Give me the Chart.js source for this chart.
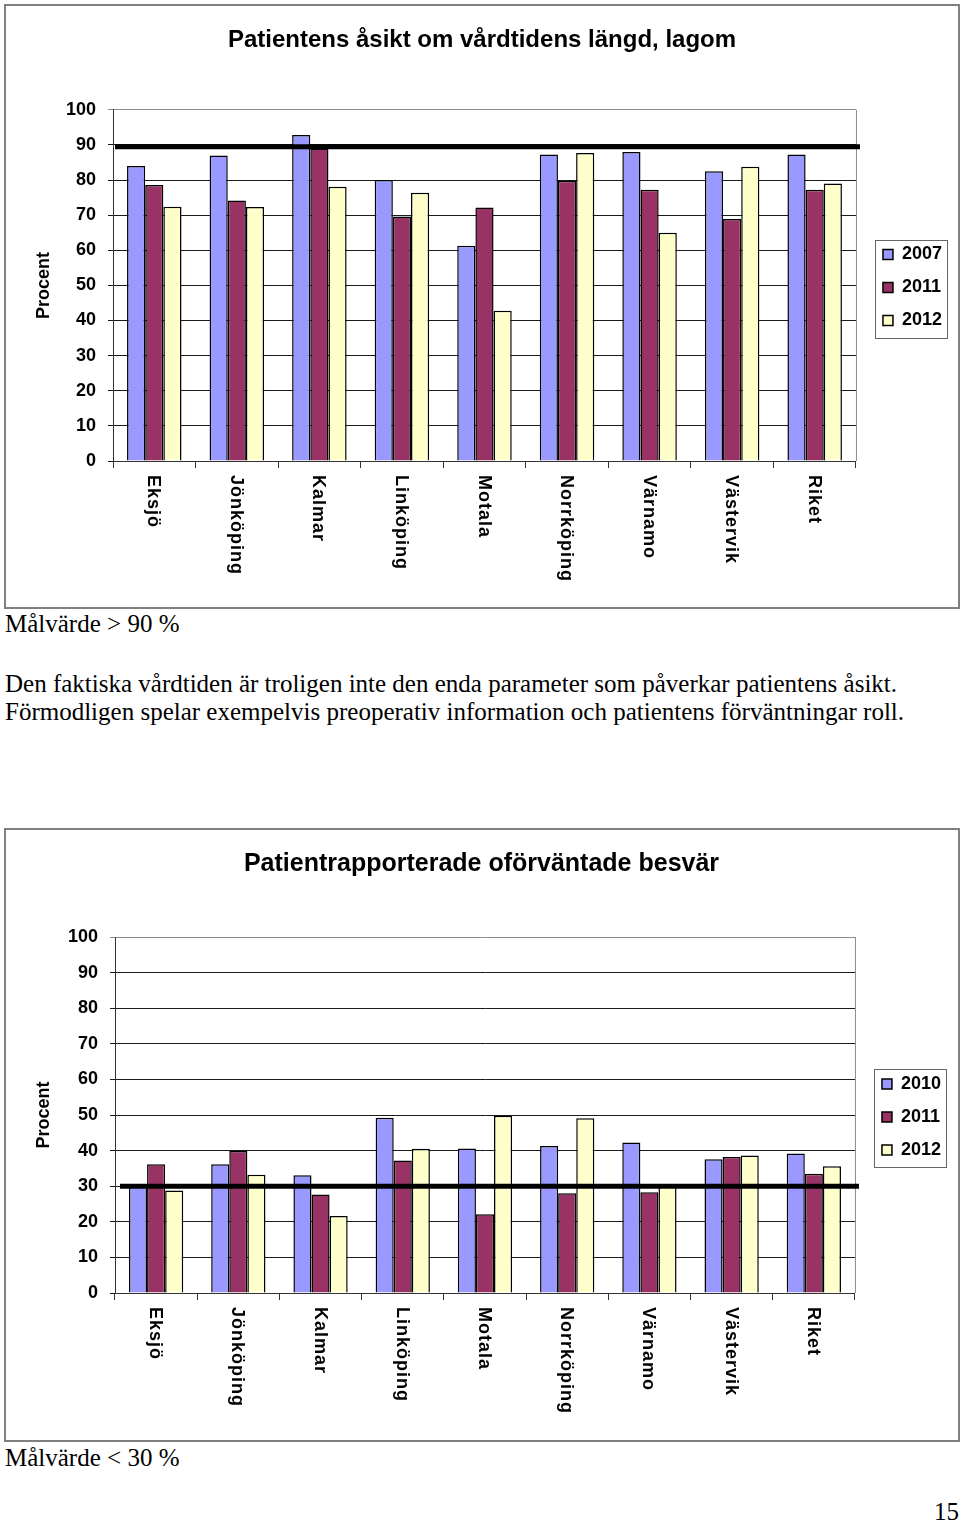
<!DOCTYPE html>
<html>
<head>
<meta charset="utf-8">
<script src="https://cdn.jsdelivr.net/npm/chart.js@4.4.0/dist/chart.umd.min.js"></script>
<style>
  body { margin: 0; width: 960px; height: 1523px; position: relative; background: #fff;
         font-family: 'Liberation Serif', 'Times New Roman', serif; color: #000; }
  .frame { position: absolute; left: 4px; width: 956px; box-sizing: border-box;
           border: 2px solid #808080; background: #fff; }
  .frame canvas { display: block; }
  .txt { position: absolute; left: 5px; font-size: 25px; line-height: 28px; white-space: nowrap; }
</style>
</head>
<body>
<div class="frame" style="top:4px;height:605px"><canvas id="lengthChart" width="952" height="601"></canvas></div>
<div class="txt" style="top:610px">Målvärde &gt; 90 %</div>
<div class="txt" style="top:670px">Den faktiska vårdtiden är troligen inte den enda parameter som påverkar patientens åsikt.<br>Förmodligen spelar exempelvis preoperativ information och patientens förväntningar roll.</div>
<div class="frame" style="top:828px;height:614px"><canvas id="issuesChart" width="952" height="610"></canvas></div>
<div class="txt" style="top:1444px">Målvärde &lt; 30 %</div>
<div class="txt" style="top:1498px;left:934px">15</div>

<script>
const categories = ['Eksjö', 'Jönköping', 'Kalmar', 'Linköping', 'Motala', 'Norrköping', 'Värnamo', 'Västervik', 'Riket'];

// chart 1: vårdtidens längd, lagom
const lengthYears = ['2007', '2011', '2012'];
const length2007 = [84, 87, 92.8, 80, 61.3, 87.3, 88, 82.5, 87.3];
const length2011 = [78.6, 74.2, 89, 69.6, 72.2, 79.8, 77.2, 68.9, 77.2];
const length2012 = [72.4, 72.3, 78.1, 76.4, 42.8, 87.7, 65, 83.8, 79];
const lengthTarget = 89.5;

// chart 2: oförväntade besvär
const issueYears = ['2010', '2011', '2012'];
const issues2010 = [30, 36.2, 33.1, 49.2, 40.6, 41.3, 42.3, 37.6, 39.2];
const issues2011 = [36.2, 39.9, 27.7, 37.2, 22.1, 28, 28.3, 38.2, 33.5];
const issues2012 = [28.8, 33.2, 21.6, 40.5, 49.8, 49.1, 30, 38.6, 35.6];
const issuesTarget = 30;

const barColors = ['#9999FF', '#993366', '#FFFFCC'];
const sansFont = '"Liberation Sans", Arial, sans-serif';

Chart.defaults.font.family = sansFont;
Chart.defaults.color = '#000';

// gray right edge of the plot
const plotEdge = {
  id: 'plotEdge',
  beforeDatasetsDraw(chart) {
    const { ctx, chartArea: { top, bottom, right } } = chart;
    ctx.save();
    ctx.strokeStyle = '#8c8c8c';
    ctx.lineWidth = 1;
    ctx.beginPath();
    ctx.moveTo(right + 0.5, top);
    ctx.lineTo(right + 0.5, bottom);
    ctx.stroke();
    ctx.restore();
  }
};

// thick target line (målvärde)
const targetLine = {
  id: 'targetLine',
  afterDatasetsDraw(chart, args, opts) {
    const { ctx, chartArea: { left, right }, scales: { y } } = chart;
    const yPos = y.getPixelForValue(opts.value);
    ctx.save();
    ctx.strokeStyle = '#000';
    ctx.lineWidth = 5;
    ctx.beginPath();
    ctx.moveTo(left + opts.start, yPos);
    ctx.lineTo(right + 4, yPos);
    ctx.stroke();
    ctx.restore();
  }
};

// category names turned clockwise, reading downwards
const downLabels = {
  id: 'downLabels',
  afterDraw(chart, args, opts) {
    const { ctx, chartArea: { bottom }, scales: { x } } = chart;
    ctx.save();
    ctx.font = 'bold 18px ' + sansFont;
    ctx.fillStyle = '#000';
    ctx.textAlign = 'left';
    ctx.textBaseline = 'middle';
    ctx.letterSpacing = '1px';
    chart.data.labels.forEach((label, i) => {
      ctx.save();
      ctx.translate(x.getPixelForValue(i) - 1, bottom + opts.gap);
      ctx.rotate(Math.PI / 2);
      ctx.fillText(label, 0, 0);
      ctx.restore();
    });
    ctx.restore();
  }
};

// nudge title and legend into place, frame the legend
const boxNudge = {
  id: 'boxNudge',
  afterLayout(chart, args, opts) {
    chart.legend.left += opts.legendX;
    chart.legend.right += opts.legendX;
    chart.legend.top += opts.legendY;
    chart.legend.bottom += opts.legendY;
    chart.titleBlock.left += opts.titleX;
    chart.titleBlock.right += opts.titleX;
  },
  afterDraw(chart) {
    const boxes = chart.legend.legendHitBoxes;
    if (!boxes || !boxes.length) return;
    const l = Math.min(...boxes.map(b => b.left)) - 8;
    const t = Math.min(...boxes.map(b => b.top)) - 6;
    const r = Math.max(...boxes.map(b => b.left + b.width)) + 5;
    const b = Math.max(...boxes.map(b => b.top + b.height)) + 8;
    const { ctx } = chart;
    ctx.save();
    ctx.strokeStyle = '#666';
    ctx.lineWidth = 1;
    ctx.strokeRect(Math.round(l) + 0.5, Math.round(t) + 0.5, Math.round(r - l), Math.round(b - t));
    ctx.restore();
  }
};

function buildChart(id, o) {
  return new Chart(document.getElementById(id), {
    type: 'bar',
    data: {
      labels: categories,
      datasets: o.years.map((year, i) => ({
        label: year,
        data: o.series[i],
        backgroundColor: barColors[i],
        borderColor: '#000',
        borderWidth: 1.5,
        borderSkipped: 'bottom',
        categoryPercentage: 0.66,
        barPercentage: 1
      }))
    },
    options: {
      responsive: false,
      animation: false,
      layout: { padding: { left: 0, right: o.padRight, top: 0, bottom: 0 } },
      scales: {
        x: {
          offset: true,
          grid: { display: true, drawOnChartArea: false, offset: true, tickLength: 7, color: '#333' },
          border: { color: '#333' },
          ticks: { display: false },
          afterFit: scale => { scale.height = o.axisHeight; }
        },
        y: {
          min: 0,
          max: 100,
          grid: {
            color: ctx => ctx.tick && ctx.tick.value === 100 ? '#8c8c8c' : '#1a1a1a',
            tickLength: 5
          },
          border: { color: '#333' },
          ticks: { stepSize: 10, padding: 12, color: '#000', font: { size: 18, weight: 'bold' } },
          title: {
            display: true,
            text: 'Procent',
            color: '#000',
            font: { size: 18, weight: 'bold' },
            padding: { top: 27, bottom: 0 }
          },
          afterFit: scale => { scale.width = o.plotLeft; }
        }
      },
      plugins: {
        title: {
          display: true,
          text: o.title,
          color: '#000',
          font: o.titleFont,
          padding: o.titlePadding
        },
        legend: {
          position: 'right',
          labels: {
            boxWidth: 10,
            boxHeight: 10,
            padding: 15,
            color: '#000',
            font: { size: 18, weight: 'bold' }
          }
        },
        tooltip: { enabled: false },
        targetLine: { value: o.target, start: o.lineStart },
        downLabels: { gap: 14 },
        boxNudge: { legendX: 12, legendY: o.legendY, titleX: 9 }
      }
    },
    plugins: [plotEdge, targetLine, downLabels, boxNudge]
  });
}

buildChart('lengthChart', {
  years: lengthYears,
  series: [length2007, length2011, length2012],
  target: lengthTarget,
  lineStart: 2,
  title: 'Patientens åsikt om vårdtidens längd, lagom',
  titleFont: { size: 24, weight: 'bold' },
  titlePadding: { top: 20, bottom: 55 },
  plotLeft: 107,
  axisHeight: 146,
  padRight: 18,
  legendY: -19
});

buildChart('issuesChart', {
  years: issueYears,
  series: [issues2010, issues2011, issues2012],
  target: issuesTarget,
  lineStart: 5,
  title: 'Patientrapporterade oförväntade besvär',
  titleFont: { size: 25, weight: 'bold' },
  titlePadding: { top: 19, bottom: 58 },
  plotLeft: 109,
  axisHeight: 147,
  padRight: 19,
  legendY: -18
});
</script>
</body>
</html>
